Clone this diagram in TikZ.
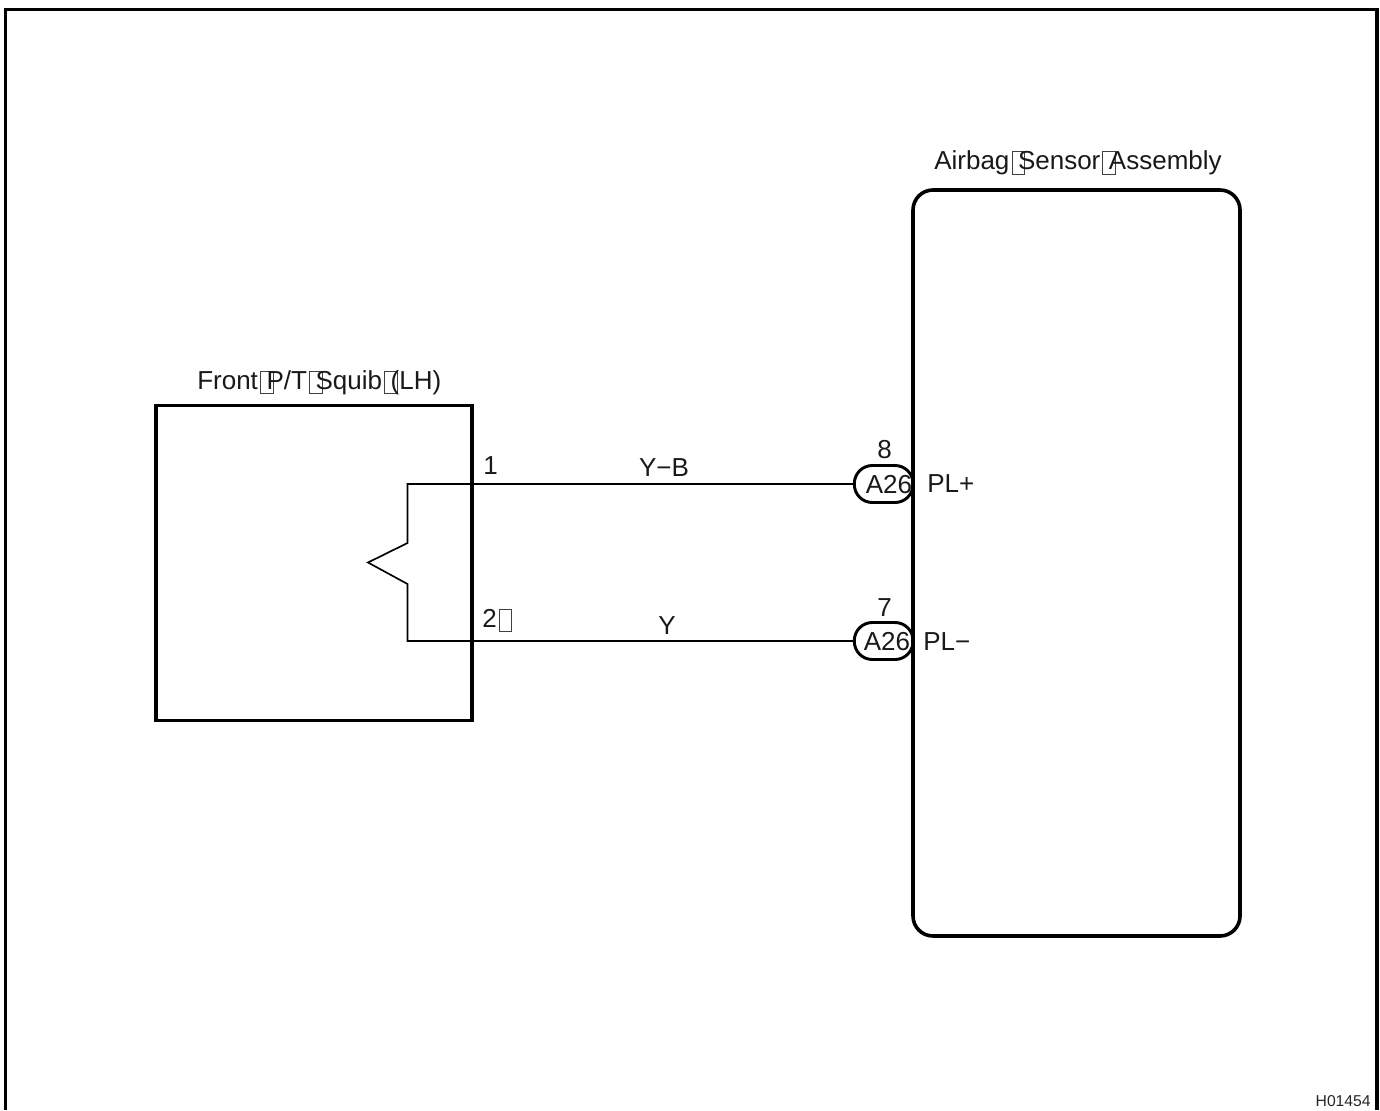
\documentclass[tikz,border=0pt]{standalone}
\usepackage{fontspec}
\setmainfont{Liberation Sans}
\newcommand{\tofu}{\rlap{\kern0.08em\raisebox{-0.18em}{\tikz[baseline=0pt]\draw[line width=0.4pt,black!75] (0,0) rectangle (0.48em,0.88em);}}\kern0.33em}
\tikzset{
  px/.style={x=0.75pt,y=-0.75pt},
  frameln/.style={line width=2.3pt,line join=miter},
  boxln/.style={line width=2.3pt,line join=miter},
  wire/.style={line width=1.25pt,line join=miter},
  lbl/.style={inner sep=0pt,font=\fontsize{19.5}{22}\selectfont,text=black!90},
  pin/.style={draw,line width=2.2pt,rounded corners=13.5pt,minimum width=44pt,minimum height=27.75pt,inner sep=0pt,outer sep=0pt,fill=white}
}
\begin{document}
\begin{tikzpicture}[px]
\useasboundingbox (0,0) rectangle (1380,1110);
\coordinate (fbl) at (5.7,1110);
\coordinate (ftl) at (5.7,9.5);
\coordinate (ftr) at (1377,9.5);
\coordinate (fbr) at (1377,1110);
\draw[frameln] (fbl) -- (ftl) -- (ftr) -- (fbr);
\node[draw,boxln,minimum width=237pt,minimum height=236.25pt,inner sep=0pt,outer sep=0pt,anchor=north west] (squib) at (156,405.4) {};
\node[pin,anchor=east] (p8) at (913,484) {};
\node[pin,anchor=east] (p7) at (913,641) {};
\node[draw,line width=2.7pt,rounded corners=15pt,minimum width=245.25pt,minimum height=559.5pt,inner sep=0pt,outer sep=0pt,anchor=north west] (ecu) at (913,190) {};
\coordinate (j1) at (407.5,484);
\coordinate (j2) at (407.5,641);
\coordinate (k1) at (407.5,543);
\coordinate (k2) at (407.5,584);
\coordinate (tip) at (368,562.5);
\draw[wire] (p8.west) -- (j1) -- (k1) -- (tip) -- (k2) -- (j2) -- (p7.west);
\node[lbl,anchor=base west] (t1) at (197,389) {Front\tofu P/T\tofu Squib\tofu (LH)};
\node[lbl,anchor=base west] (t2) at (934,169.5) {Airbag\tofu Sensor\tofu Assembly};
\node[lbl,anchor=base west] (n1) at (483,474) {1};
\node[lbl,anchor=base west] (n2) at (482,627) {2\tofu\kern0.4em};
\node[lbl,anchor=base] (w1) at (664,476) {Y−B};
\node[lbl,anchor=base] (w2) at (667,634) {Y};
\node[lbl,anchor=base] (a8) at (884.5,458) {8};
\node[lbl,anchor=base] (a7) at (884.5,616) {7};
\node[lbl,anchor=base] (c8) at (889,493) {A26};
\node[lbl,anchor=base] (c7) at (887,650) {A26};
\node[lbl,anchor=base west] (pp) at (927,492) {PL+};
\node[lbl,anchor=base west] (pm) at (923,650) {PL−};
\node[inner sep=0pt,anchor=base east,font=\fontsize{11.8}{13}\selectfont,text=black!85] (hh) at (1371,1106) {H01454};
\end{tikzpicture}
\end{document}
